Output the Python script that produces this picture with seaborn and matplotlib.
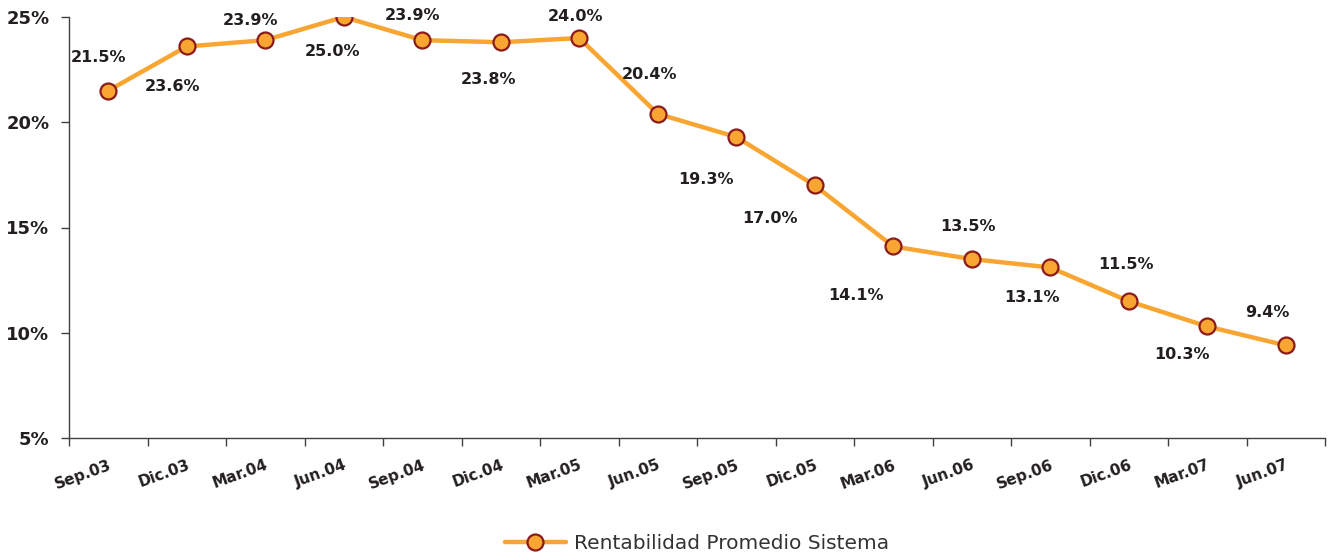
import numpy as np
import pandas as pd
import matplotlib
matplotlib.use("Agg")
import matplotlib.pyplot as plt
import seaborn as sns

# ================================================================
# DATA
# ================================================================
periodos = ["Sep.03", "Dic.03", "Mar.04", "Jun.04", "Sep.04", "Dic.04", "Mar.05", "Jun.05",
            "Sep.05", "Dic.05", "Mar.06", "Jun.06", "Sep.06", "Dic.06", "Mar.07", "Jun.07"]
rentabilidad = [21.5, 23.6, 23.9, 25.0, 23.9, 23.8, 24.0, 20.4,
                19.3, 17.0, 14.1, 13.5, 13.1, 11.5, 10.3, 9.4]
serie = "Rentabilidad Promedio Sistema"

# label offsets in pixels (dx, dy) relative to each point
offsets = [(-10, 33), (-14, -40), (-15, 20), (-11, -35), (-10, 25), (-12, -37), (-4, 22), (-8, 39),
           (-30, -43), (-45, -33), (-37, -49), (-4, 33), (-18, -30), (-3, 37), (-25, -28), (-18, 33)]

# ================================================================
# PLOT
# ================================================================
sns.set_style("white", {"xtick.bottom": True, "ytick.left": True})
plt.rcParams["font.family"] = ["DejaVu Sans"]

txt = "#231f20"
orange = "#f8a531"
edge = "#8b1a1a"

fig = plt.figure(figsize=(13.31, 5.56), dpi=100)
ax = fig.add_axes([69 / 1331, 1 - 438 / 556, (1325 - 69) / 1331, (438 - 17) / 556])

df = pd.DataFrame({"x": np.arange(len(periodos)), "y": rentabilidad})
sns.lineplot(data=df, x="x", y="y", ax=ax, color=orange, linewidth=3.2, sort=False,
             marker="o", markersize=11.5, markerfacecolor=orange, markeredgecolor=edge,
             markeredgewidth=1.6, label=serie)

for i, v in enumerate(rentabilidad):
    dx, dy = offsets[i]
    ax.annotate(f"{v:.1f}%", (i, v), xytext=(dx, dy), textcoords="offset pixels",
                ha="center", va="center", fontsize=11.5, fontweight="bold", color=txt)

ax.set_xlim(-0.5, len(periodos) - 0.5)
ax.set_ylim(5, 25)
ax.set_yticks([5, 10, 15, 20, 25])
ax.set_yticklabels([f"{t}%" for t in [5, 10, 15, 20, 25]], fontsize=13, fontweight="bold", color=txt)
ax.set_xticks(np.arange(len(periodos)))
ax.set_xticklabels(periodos, rotation=20, ha="right", rotation_mode="anchor",
                   fontsize=11, fontweight="bold", color=txt)
ax.set_xticks(np.arange(len(periodos) + 1) - 0.5, minor=True)
ax.tick_params(axis="x", which="major", length=0, pad=14)
ax.tick_params(axis="x", which="minor", bottom=True, length=6, width=1, color="#404040", direction="out")
ax.tick_params(axis="y", which="major", left=True, length=6, width=1, color="#404040", direction="out", pad=8)
ax.set_xlabel("")
ax.set_ylabel("")

for s in ["top", "right"]:
    ax.spines[s].set_visible(False)
for s in ["left", "bottom"]:
    ax.spines[s].set_color("#404040")
    ax.spines[s].set_linewidth(1)

ax.legend(loc="center", bbox_to_anchor=(0.5, -0.25), bbox_transform=ax.transAxes, frameon=False,
          fontsize=14.5, handlelength=3.0, handletextpad=0.4, labelcolor="#333333")

fig.savefig("out.png", dpi=100)
